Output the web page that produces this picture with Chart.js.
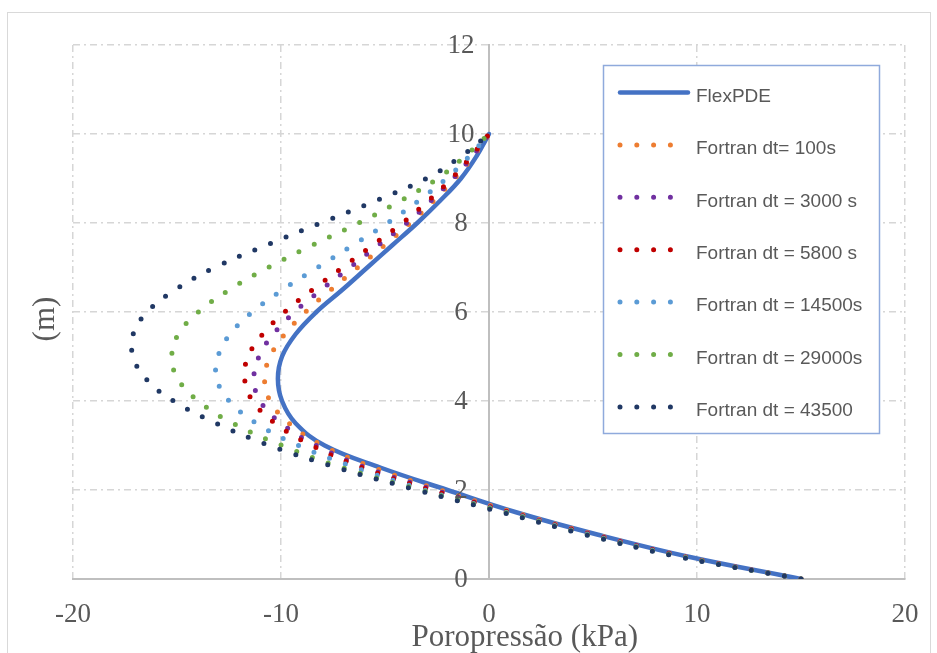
<!DOCTYPE html>
<html><head><meta charset="utf-8">
<script src="https://cdn.jsdelivr.net/npm/chart.js@4/dist/chart.umd.min.js"></script>
<style>
html,body{margin:0;padding:0;background:#fff;}
#wrap{position:relative;width:937px;height:653px;overflow:hidden;background:#fff;}
#frame{position:absolute;left:7px;top:12px;width:924px;height:700px;border:1.5px solid #D9D9D9;box-sizing:border-box;}
canvas{position:absolute;left:0;top:0;}
</style></head><body>
<div id="wrap"><div id="frame"></div><canvas id="c" width="937" height="653"></canvas></div>
<script>
// depth (m)
const depth = [0,0.5,1,1.5,2,2.5,3,3.5,4,4.5,5,5.5,6,6.5,7,7.5,8,8.5,9,9.5,10];
// pore pressure (kPa) at each depth
const flexPDE  = [15, 9.6, 5.2, 1.3, -2.0, -5.2, -7.9, -9.3, -9.95, -10.15, -9.95, -9.3, -8.3, -7.05, -5.85, -4.65, -3.45, -2.35, -1.35, -0.6, 0];
const dt100    = [15, 9.45, 5.1, 1.2, -2.35, -5.53, -8.0, -9.61, -10.52, -10.79, -10.52, -9.82, -8.82, -7.6, -6.31, -5.02, -3.78, -2.66, -1.65, -0.75, 0];
const dt3000   = [15, 9.4, 5.0, 1.0, -2.6, -5.9, -8.3, -10.0, -11.01, -11.3, -11.06, -10.37, -9.35, -8.06, -6.69, -5.33, -3.95, -2.79, -1.72, -0.8, 0];
const dt5800   = [15, 9.35, 4.9, 0.95, -2.8, -6.1, -8.52, -10.29, -11.36, -11.75, -11.58, -10.88, -9.82, -8.49, -7.04, -5.6, -4.16, -2.92, -1.8, -0.85, 0];
const dt14500  = [15, 9.3, 4.8, 0.85, -3.1, -6.4, -9.16, -11.18, -12.49, -13.09, -13.03, -12.45, -11.38, -9.92, -8.25, -6.55, -4.87, -3.39, -2.05, -0.95, 0];
const dt29000  = [15, 9.2, 4.7, 0.75, -3.3, -7.04, -9.95, -12.32, -13.98, -14.96, -15.25, -14.94, -13.97, -12.48, -10.62, -8.5, -6.26, -4.25, -2.47, -1.15, 0];
const dt43500  = [15, 9.1, 4.6, 0.6, -3.47, -7.28, -10.55, -13.12, -15.17, -16.5, -17.11, -17.11, -16.43, -15.09, -13.19, -10.72, -8.08, -5.44, -3.01, -1.34, 0];

const seriesLabels = ['FlexPDE','Fortran dt= 100s','Fortran dt = 3000 s','Fortran dt = 5800 s','Fortran dt = 14500s','Fortran dt = 29000s','Fortran dt = 43500'];
const seriesValues = [flexPDE, dt100, dt3000, dt5800, dt14500, dt29000, dt43500];
const seriesColors = ['#4472C4','#ED7D31','#7030A0','#C00000','#5B9BD5','#70AD47','#203864'];
const xTitle = 'Poropressão (kPa)';
const yTitle = '(m)';

const datasets = seriesValues.map((vals, i) => ({
  label: seriesLabels[i],
  data: vals.map((v, k) => ({x: v, y: depth[k]})),
  showLine: true,
  borderColor: seriesColors[i],
  backgroundColor: seriesColors[i],
  borderWidth: i === 0 ? 4.5 : 5,
  borderDash: i === 0 ? [] : [0, 16.8],
  borderCapStyle: 'round',
  pointRadius: 0,
  tension: 0.4,
  fill: false,
  order: i === 0 ? 10 : 7 - i
}));

const decorPlugin = {
  id: 'decor',
  afterDraw(chart) {
    const ctx = chart.ctx;
    const area = chart.chartArea;
    const xs = chart.scales.x, ys = chart.scales.y;
    ctx.save();
    ctx.fillStyle = '#595959';
    // tick labels (from the library's scale ticks)
    ctx.font = '27px "Liberation Serif"';
    ctx.textAlign = 'center';
    ctx.textBaseline = 'middle';
    xs.ticks.forEach(t => ctx.fillText(String(t.value), xs.getPixelForValue(t.value), 615));
    ys.ticks.forEach(t => ctx.fillText(String(t.value), xs.getPixelForValue(0) - 28, ys.getPixelForValue(t.value) + 1));
    // axis titles
    ctx.font = '31px "Liberation Serif"';
    ctx.fillText(xTitle, area.left + (area.right - area.left) * 0.543, 638);
    ctx.save();
    ctx.translate(46, 319);
    ctx.rotate(-Math.PI / 2);
    ctx.fillText(yTitle, 0, 0);
    ctx.restore();
    // legend box
    const bx = 603, by = 65, bw = 276, bh = 368;
    ctx.fillStyle = '#fff';
    ctx.fillRect(bx, by, bw, bh);
    ctx.strokeStyle = '#8FAADC';
    ctx.lineWidth = 1.5;
    ctx.strokeRect(bx + 0.5, by + 0.5, bw, bh);
    chart.data.datasets.forEach((ds, i) => {
      const y = 92.5 + i * 52.4;
      ctx.strokeStyle = ds.borderColor;
      ctx.lineWidth = ds.borderWidth;
      ctx.lineCap = 'round';
      ctx.setLineDash(ds.borderDash);
      ctx.beginPath();
      if (i === 0) { ctx.moveTo(620, y); ctx.lineTo(688, y); }
      else { ctx.moveTo(620, y); ctx.lineTo(672, y); }
      ctx.stroke();
      ctx.setLineDash([]);
      ctx.fillStyle = '#595959';
      ctx.font = '19px "Liberation Sans"';
      ctx.textAlign = 'left';
      ctx.textBaseline = 'middle';
      ctx.fillText(ds.label, 696, y + 4);
    });
    ctx.restore();
  }
};

const gridColor = () => (c) => (c.tick && c.tick.value === 0) ? 'rgba(0,0,0,0)' : '#D6D6D6';

new Chart(document.getElementById('c'), {
  type: 'scatter',
  data: { datasets },
  options: {
    responsive: false,
    animation: false,
    layout: { padding: { left: 73, right: 32, top: 45, bottom: 74 } },
    plugins: { legend: { display: false }, tooltip: { enabled: false } },
    scales: {
      x: {
        type: 'linear', min: -20, max: 20,
        position: { y: 0 },
        ticks: { stepSize: 10, display: false },
        grid: { color: gridColor(), lineWidth: 1.5, drawTicks: false },
        border: { display: true, color: '#BFBFBF', width: 2, dash: [7, 4, 2, 4] }
      },
      y: {
        type: 'linear', min: 0, max: 12,
        position: { x: 0 },
        ticks: { stepSize: 2, display: false },
        grid: { color: gridColor(), lineWidth: 1.5, drawTicks: false },
        border: { display: true, color: '#BFBFBF', width: 2, dash: [7, 4, 2, 4] }
      }
    }
  },
  plugins: [decorPlugin]
});
</script>
</body></html>
